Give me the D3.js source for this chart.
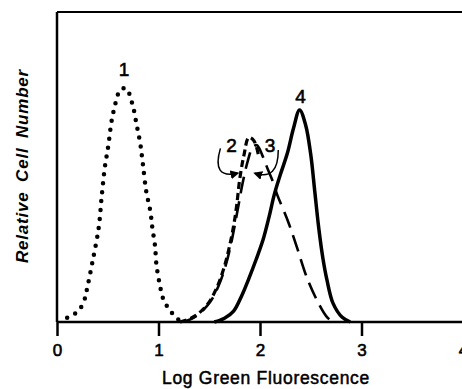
<!DOCTYPE html>
<html>
<head>
<meta charset="utf-8">
<script src="https://cdn.jsdelivr.net/npm/d3@7"></script>
<style>
  html, body { margin: 0; padding: 0; background: #fff; }
  svg { display: block; font-family: "Liberation Sans", Arial, sans-serif; }
</style>
</head>
<body>
<div id="chart"></div>
<script>
// log fluorescence (x) and relative cell number (y, 0-100 of frame height)
const curve1 = [[0.10,1.4],[0.18,2.8],[0.23,4.4],[0.27,7.1],[0.29,9.8],[0.35,19.5],[0.41,30.2],[0.44,40.4],[0.47,49.6],[0.505,56.8],[0.54,65.2],[0.59,72.2],[0.62,74.8],[0.68,75.4],[0.745,70],[0.785,63.5],[0.82,57.6],[0.845,51.2],[0.88,42],[0.92,35.6],[0.94,30.2],[0.965,24.8],[0.98,18.4],[1.01,12.5],[1.05,7.1],[1.11,3.9],[1.18,1.2],[1.24,0]];
const curve2 = [[1.21,0],[1.32,1.2],[1.41,3.2],[1.50,6.5],[1.58,11.5],[1.65,18],[1.70,24.5],[1.74,31],[1.77,37.5],[1.80,46],[1.84,53.5],[1.89,59.5],[1.94,58.5],[1.99,53]];
const curve3 = [[1.22,0],[1.33,1.1],[1.42,3.2],[1.51,6.5],[1.59,11.5],[1.66,18],[1.71,24.5],[1.75,31],[1.79,38],[1.83,45],[1.88,52],[1.93,56.5],[1.97,57],[2.02,54],[2.08,49],[2.13,45],[2.17,41],[2.27,33],[2.36,24.5],[2.46,14.5],[2.56,7.1],[2.66,1.6],[2.72,0]];
const curve4 = [[1.55,0],[1.65,1.2],[1.74,3.5],[1.82,8.5],[1.89,14],[1.96,20],[2.03,26.5],[2.09,34],[2.14,41],[2.20,47.5],[2.27,54.5],[2.33,62.5],[2.39,68.4],[2.45,63.5],[2.50,54],[2.54,42],[2.58,30],[2.62,20.5],[2.66,13.5],[2.72,6],[2.81,1.5],[2.89,0]];

const xTicks = [0, 1, 2, 3, 4];
const curveLabels = [
  { text: '1', x: 0.66, y: 79.5 },
  { text: '2', x: 1.72, y: 55 },
  { text: '3', x: 2.10, y: 55 },
  { text: '4', x: 2.40, y: 70.5 }
];
// curved pointer arrows from labels 2 and 3: start, control, end
const arrows = [
  [[1.61, 56], [1.52, 46], [1.78, 48]],
  [[2.18, 55.5], [2.18, 45.5], [1.95, 48]]
];

const width = 462, height = 389;
const margin = { top: 12, right: 0, bottom: 67, left: 57 };

const svg = d3.select('#chart').append('svg')
  .attr('width', width)
  .attr('height', height);

const x = d3.scaleLinear().domain([0, 4]).range([margin.left, margin.left + 406]);
const y = d3.scaleLinear().domain([0, 100]).range([height - margin.bottom, margin.top]);

svg.append('defs').append('marker')
  .attr('id', 'arrowhead')
  .attr('viewBox', '0 0 10 10')
  .attr('refX', 8).attr('refY', 5)
  .attr('markerWidth', 6).attr('markerHeight', 6)
  .attr('orient', 'auto')
  .append('path')
  .attr('d', 'M0,0 L10,5 L0,10 z')
  .attr('fill', '#000');

// frame: top line and left axis
svg.append('line')
  .attr('x1', x(0)).attr('x2', width)
  .attr('y1', y(100)).attr('y2', y(100))
  .attr('stroke', '#000').attr('stroke-width', 2);
svg.append('line')
  .attr('x1', x(0)).attr('x2', x(0))
  .attr('y1', y(100)).attr('y2', y(0))
  .attr('stroke', '#000').attr('stroke-width', 2.5);

// x axis
const xAxis = svg.append('g')
  .attr('transform', `translate(0,${y(0)})`)
  .call(d3.axisBottom(x).tickValues(xTicks).tickSize(14).tickPadding(8).tickFormat(d3.format('d')));
xAxis.select('.domain').attr('stroke', '#000').attr('stroke-width', 2.5)
  .attr('d', `M${x(0)},0H${width}`);
xAxis.selectAll('.tick line').attr('stroke', '#000').attr('stroke-width', 2.5);
xAxis.selectAll('.tick text')
  .attr('fill', '#000')
  .attr('stroke', '#000')
  .attr('stroke-width', 0.6)
  .style('font-size', '17px');

svg.append('text')
  .attr('x', 266)
  .attr('y', 384)
  .attr('text-anchor', 'middle')
  .attr('stroke', '#000')
  .attr('stroke-width', 0.5)
  .style('font-size', '17.5px')
  .style('letter-spacing', '0.7px')
  .text('Log Green Fluorescence');

svg.append('text')
  .attr('transform', 'rotate(-90)')
  .attr('x', -166)
  .attr('y', 28)
  .attr('text-anchor', 'middle')
  .style('font-size', '17px')
  .style('font-style', 'italic')
  .style('font-weight', 'bold')
  .style('letter-spacing', '0.8px')
  .style('word-spacing', '4px')
  .text('Relative Cell Number');

// histograms
const line = d3.line()
  .x(d => x(d[0]))
  .y(d => y(d[1]))
  .curve(d3.curveCatmullRom.alpha(0.5));

svg.append('path')
  .datum(curve1)
  .attr('fill', 'none')
  .attr('stroke', '#000')
  .attr('stroke-width', 4.5)
  .attr('stroke-linecap', 'round')
  .attr('stroke-dasharray', '0 9')
  .attr('d', line);

svg.append('path')
  .datum(curve3)
  .attr('fill', 'none')
  .attr('stroke', '#000')
  .attr('stroke-width', 2.6)
  .attr('stroke-dasharray', '17 8')
  .attr('d', line);

svg.append('path')
  .datum(curve2)
  .attr('fill', 'none')
  .attr('stroke', '#000')
  .attr('stroke-width', 3.2)
  .attr('stroke-dasharray', '7 4')
  .attr('d', line);

svg.append('path')
  .datum(curve4)
  .attr('fill', 'none')
  .attr('stroke', '#000')
  .attr('stroke-width', 3.5)
  .attr('stroke-linejoin', 'round')
  .attr('d', line);

// curve labels
svg.selectAll('.curve-label')
  .data(curveLabels)
  .enter().append('text')
  .attr('class', 'curve-label')
  .attr('x', d => x(d.x))
  .attr('y', d => y(d.y))
  .attr('text-anchor', 'middle')
  .attr('stroke', '#000')
  .attr('stroke-width', 0.6)
  .style('font-size', '19px')
  .text(d => d.text);

svg.selectAll('.pointer')
  .data(arrows)
  .enter().append('path')
  .attr('class', 'pointer')
  .attr('fill', 'none')
  .attr('stroke', '#000')
  .attr('stroke-width', 1.5)
  .attr('marker-end', 'url(#arrowhead)')
  .attr('d', d => `M${x(d[0][0])},${y(d[0][1])} Q${x(d[1][0])},${y(d[1][1])} ${x(d[2][0])},${y(d[2][1])}`);
</script>
</body>
</html>
